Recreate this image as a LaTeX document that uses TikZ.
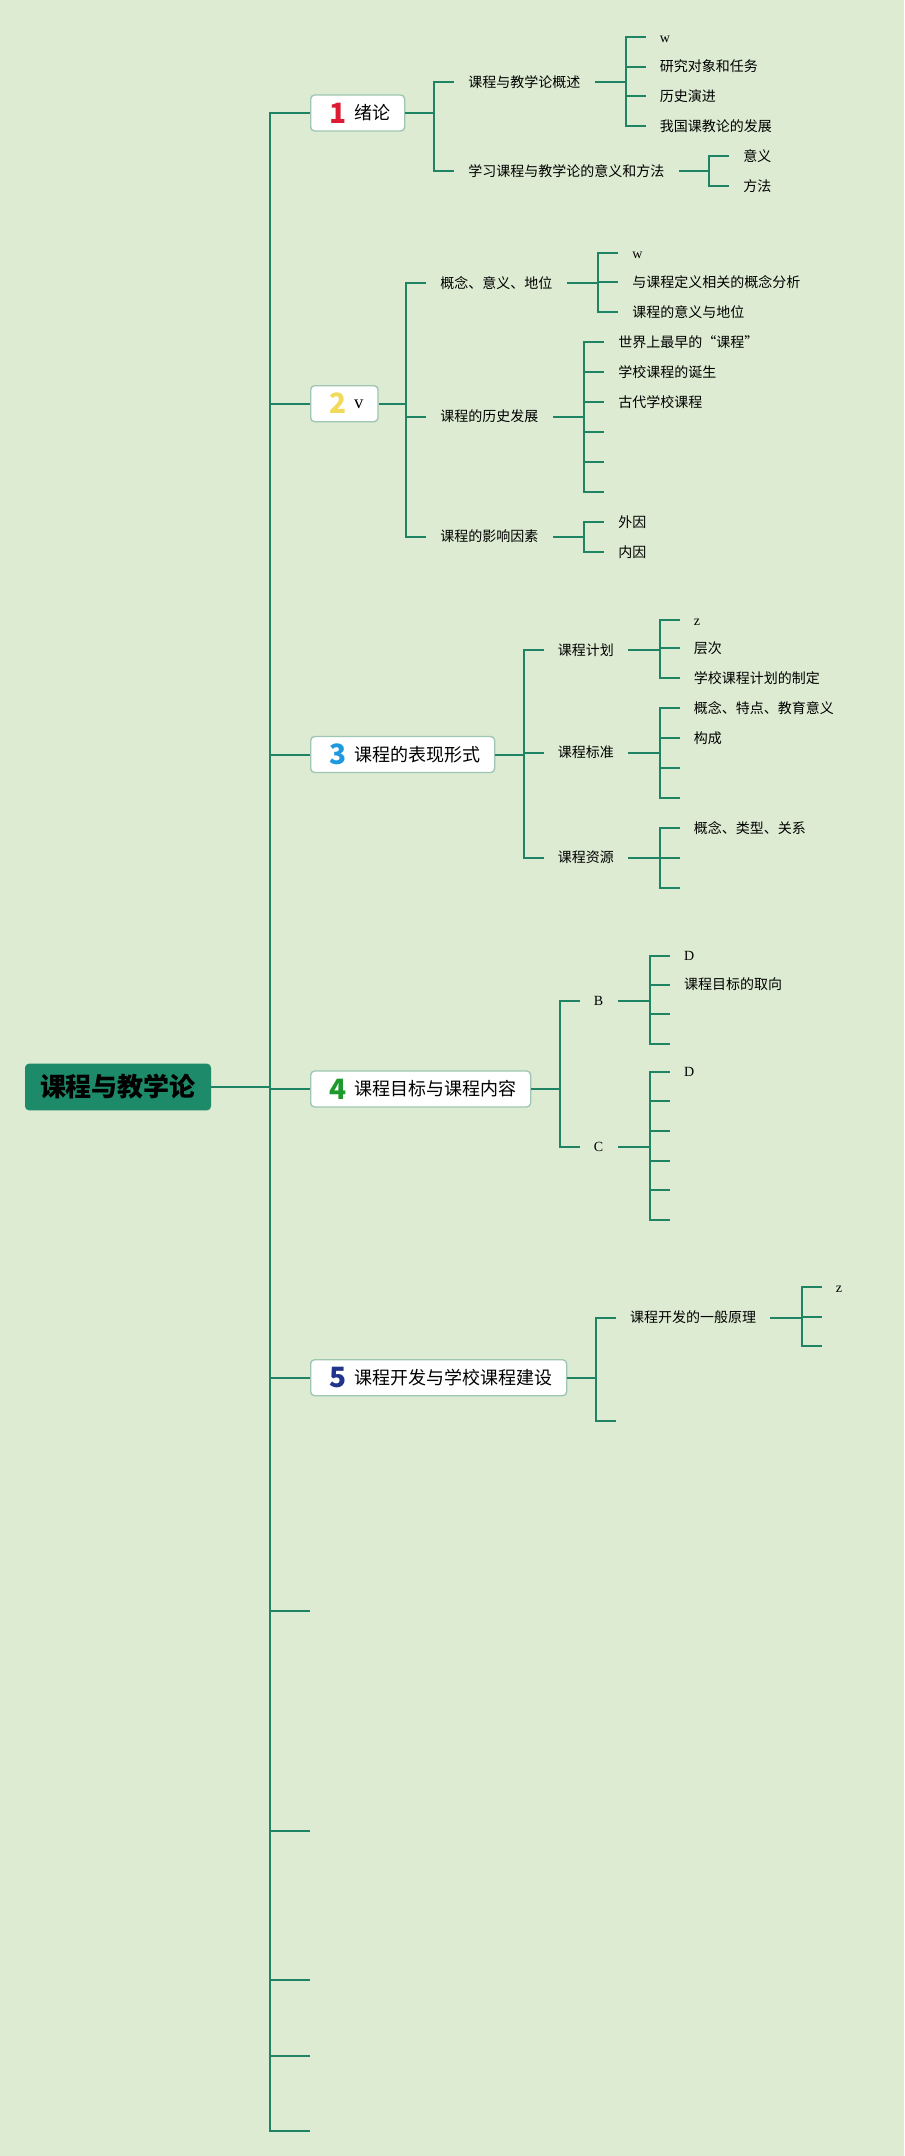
\documentclass[tikz,border=0pt]{standalone}
\usepackage{fontspec}
\setmainfont{Liberation Serif}
\newfontfamily\cjk{Noto Sans CJK SC}
\usepackage{tikz}
\usetikzlibrary{positioning}
\definecolor{bgcolor}{HTML}{DCEBD2}
\definecolor{linecolor}{HTML}{1E8464}
\definecolor{rootcolor}{HTML}{1D8A69}
\definecolor{boxborder}{HTML}{9DC6B3}
\definecolor{numred}{HTML}{DD1B32}
\definecolor{numyellow}{HTML}{F1DA5A}
\definecolor{numblue}{HTML}{1E98DE}
\definecolor{numgreen}{HTML}{1E9A2C}
\definecolor{numnavy}{HTML}{23358A}

\newcommand{\branchnum}[2]{\hspace{3pt}\makebox[13.5pt][c]{\raisebox{-2.4pt}{\cjk\bfseries\fontsize{21pt}{21pt}\selectfont\color{#1}#2}}\hspace{5pt}}

\tikzset{
  conn/.style={draw=linecolor, line width=1.5pt},
  rootbox/.style={fill=rootcolor, rounded corners=3pt, minimum width=139.5pt, minimum height=35pt,
    font=\cjk\bfseries\fontsize{19.5pt}{20pt}\selectfont, text=black, inner sep=0pt},
  branchbox/.style={fill=white, draw=boxborder, line width=1pt, rounded corners=3pt, anchor=west,
    minimum height=27pt, inner xsep=11pt, inner ysep=0pt, text height=11.9pt, text depth=1.6pt,
    font=\cjk\fontsize{13.5pt}{14pt}\selectfont},
  subtext/.style={anchor=west, inner xsep=10.5pt, inner ysep=1pt, text height=9.2pt, text depth=1.3pt,
    font=\cjk\fontsize{10.5pt}{12pt}\selectfont},
  latintext/.style={subtext, font=\fontsize{10.5pt}{12pt}\selectfont},
}

\begin{document}
\begin{tikzpicture}[x=0.75pt, y=-0.75pt]
    \fill[bgcolor] (0,0) rectangle (904,2156);
    \useasboundingbox (0,0) rectangle (904,2156);

    \node[rootbox] (root) at (118,1087) {课程与教学论};

    \node[branchbox] (b1) at (310,113) {\branchnum{numred}{1}绪论};
    \node[branchbox] (b2) at (310,403.7) {\branchnum{numyellow}{2}{\fontspec{Liberation Serif}\fontsize{14pt}{14pt}\selectfont\raisebox{1.5pt}{v}}};
    \node[branchbox] (b3) at (310,754.5) {\branchnum{numblue}{3}课程的表现形式};
    \node[branchbox] (b4) at (310,1089) {\branchnum{numgreen}{4}课程目标与课程内容};
    \node[branchbox] (b5) at (310,1377.7) {\branchnum{numnavy}{5}课程开发与学校课程建设};
    \coordinate (e1) at (310,1611);
    \coordinate (e2) at (310,1831);
    \coordinate (e3) at (310,1980);
    \coordinate (e4) at (310,2056);
    \coordinate (e5) at (310,2131);

    \foreach \b in {b1,b2,b3,b4,b5}
        \draw[conn] (\b.west) -- ++(-40,0) |- (root.east);
    \foreach \b in {e1,e2,e3,e4,e5}
        \draw[conn] (\b) -- ++(-40,0) |- (root.east);

    % 1
    \node[subtext] (s11) at (454,82.3) {课程与教学论概述};
    \node[subtext] (s12) at (454,171) {学习课程与教学论的意义和方法};
    \node[latintext] (l111) at (645.5,36.8) {w};
    \node[subtext] (l112) at (645.5,66.5) {研究对象和任务};
    \node[subtext] (l113) at (645.5,96.2) {历史演进};
    \node[subtext] (l114) at (645.5,126) {我国课教论的发展};
    \node[subtext] (l121) at (729,156) {意义};
    \node[subtext] (l122) at (729,186) {方法};
    \foreach \c in {s11,s12}
        \draw[conn] (\c.west) -- ++(-20,0) |- (b1.east);
    \foreach \c in {l111,l112,l113,l114}
        \draw[conn] (\c.west) -- ++(-20,0) |- (s11.east);
    \foreach \c in {l121,l122}
        \draw[conn] (\c.west) -- ++(-20,0) |- (s12.east);

    % 2
    \node[subtext] (s21) at (426,283) {概念、意义、地位};
    \node[subtext] (s22) at (426,416.7) {课程的历史发展};
    \node[subtext] (s23) at (426,536.7) {课程的影响因素};
    \node[latintext] (l211) at (618,253) {w};
    \node[subtext] (l212) at (618,282) {与课程定义相关的概念分析};
    \node[subtext] (l213) at (618,312) {课程的意义与地位};
    \node[subtext] (l221) at (604,342) {世界上最早的“课程”};
    \node[subtext] (l222) at (604,372) {学校课程的诞生};
    \node[subtext] (l223) at (604,402) {古代学校课程};
    \coordinate (l224) at (604,432);
    \coordinate (l225) at (604,462);
    \coordinate (l226) at (604,492);
    \node[subtext] (l231) at (604,522) {外因};
    \node[subtext] (l232) at (604,552) {内因};
    \foreach \c in {s21,s22,s23}
        \draw[conn] (\c.west) -- ++(-20,0) |- (b2.east);
    \foreach \c in {l211,l212,l213}
        \draw[conn] (\c.west) -- ++(-20,0) |- (s21.east);
    \foreach \c in {l221,l222,l223}
        \draw[conn] (\c.west) -- ++(-20,0) |- (s22.east);
    \foreach \c in {l224,l225,l226}
        \draw[conn] (\c) -- ++(-20,0) |- (s22.east);
    \foreach \c in {l231,l232}
        \draw[conn] (\c.west) -- ++(-20,0) |- (s23.east);

    % 3
    \node[subtext] (s31) at (543.7,650) {课程计划};
    \node[subtext] (s32) at (543.7,752.7) {课程标准};
    \node[subtext] (s33) at (543.7,857.7) {课程资源};
    \node[latintext] (l311) at (679.6,620) {z};
    \node[subtext] (l312) at (679.6,648) {层次};
    \node[subtext] (l313) at (679.6,678) {学校课程计划的制定};
    \node[subtext] (l321) at (679.6,708) {概念、特点、教育意义};
    \node[subtext] (l322) at (679.6,738) {构成};
    \coordinate (l323) at (679.6,768);
    \coordinate (l324) at (679.6,798);
    \node[subtext] (l331) at (679.6,828) {概念、类型、关系};
    \coordinate (l332) at (679.6,858);
    \coordinate (l333) at (679.6,888);
    \foreach \c in {s31,s32,s33}
        \draw[conn] (\c.west) -- ++(-20,0) |- (b3.east);
    \foreach \c in {l311,l312,l313}
        \draw[conn] (\c.west) -- ++(-20,0) |- (s31.east);
    \foreach \c in {l321,l322}
        \draw[conn] (\c.west) -- ++(-20,0) |- (s32.east);
    \foreach \c in {l323,l324}
        \draw[conn] (\c) -- ++(-20,0) |- (s32.east);
    \draw[conn] (l331.west) -- ++(-20,0) |- (s33.east);
    \foreach \c in {l332,l333}
        \draw[conn] (\c) -- ++(-20,0) |- (s33.east);

    % 4
    \node[latintext] (s41) at (579.7,1000.7) {B};
    \node[latintext] (s42) at (579.7,1146.7) {C};
    \node[latintext] (l411) at (669.8,955.7) {D};
    \node[subtext] (l412) at (669.8,984.7) {课程目标的取向};
    \coordinate (l413) at (669.8,1014.2);
    \coordinate (l414) at (669.8,1043.7);
    \node[latintext] (l421) at (669.8,1071.7) {D};
    \coordinate (l422) at (669.8,1101.3);
    \coordinate (l423) at (669.8,1130.9);
    \coordinate (l424) at (669.8,1160.5);
    \coordinate (l425) at (669.8,1190.1);
    \coordinate (l426) at (669.8,1219.7);
    \foreach \c in {s41,s42}
        \draw[conn] (\c.west) -- ++(-20,0) |- (b4.east);
    \foreach \c in {l411,l412}
        \draw[conn] (\c.west) -- ++(-20,0) |- (s41.east);
    \foreach \c in {l413,l414}
        \draw[conn] (\c) -- ++(-20,0) |- (s41.east);
    \draw[conn] (l421.west) -- ++(-20,0) |- (s42.east);
    \foreach \c in {l422,l423,l424,l425,l426}
        \draw[conn] (\c) -- ++(-20,0) |- (s42.east);

    % 5
    \node[subtext] (s51) at (615.8,1317.7) {课程开发的一般原理};
    \coordinate (s52) at (615.8,1420.7);
    \node[latintext] (l511) at (821.7,1287.3) {z};
    \coordinate (l512) at (821.7,1316.6);
    \coordinate (l513) at (821.7,1346);
    \draw[conn] (s51.west) -- ++(-20,0) |- (b5.east);
    \draw[conn] (s52) -- ++(-20,0) |- (b5.east);
    \draw[conn] (l511.west) -- ++(-20,0) |- (s51.east);
    \foreach \c in {l512,l513}
        \draw[conn] (\c) -- ++(-20,0) |- (s51.east);
\end{tikzpicture}
\end{document}
